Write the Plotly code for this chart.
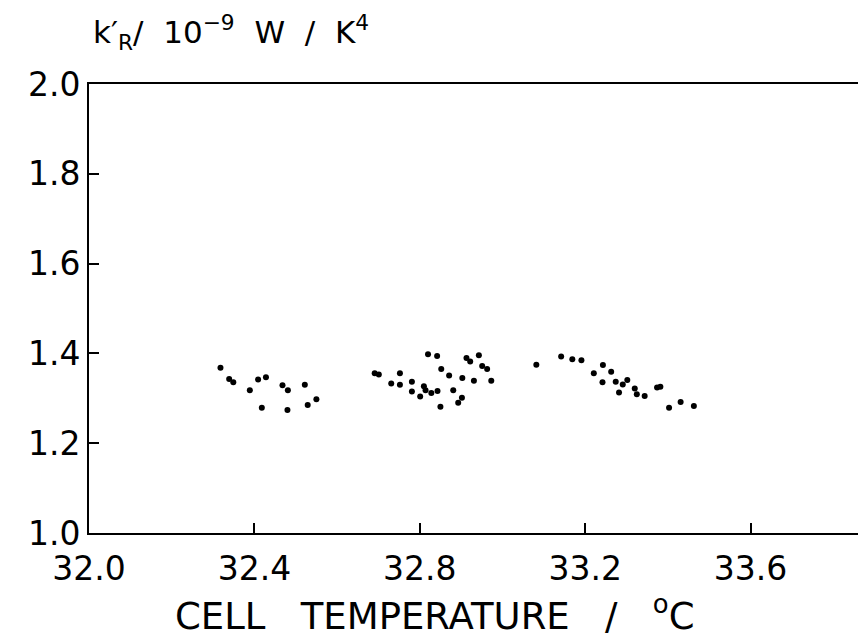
import plotly.graph_objects as go

# Data: cell temperature (°C) and k'_R (1e-9 W / K^4)
temperature = [32.318, 32.339, 32.349, 32.389, 32.409, 32.428, 32.418, 32.468, 32.481, 32.480,
               32.522, 32.529, 32.550,
               32.691, 32.701, 32.731, 32.752, 32.752, 32.781, 32.781, 32.801, 32.810, 32.814,
               32.828, 32.843, 32.820, 32.842, 32.852, 32.871, 32.850, 32.881, 32.893, 32.902,
               32.903, 32.913, 32.922, 32.943, 32.931, 32.951, 32.963, 32.973,
               33.082, 33.142, 33.169, 33.191, 33.221, 33.243, 33.263, 33.242, 33.274, 33.291,
               33.302, 33.282, 33.320, 33.325, 33.344, 33.374, 33.382, 33.403, 33.431, 33.463]
k_r = [1.368, 1.343, 1.336, 1.318, 1.342, 1.347, 1.279, 1.329, 1.318, 1.274,
       1.330, 1.285, 1.298,
       1.356, 1.353, 1.333, 1.356, 1.330, 1.337, 1.315, 1.304, 1.327, 1.318,
       1.312, 1.316, 1.398, 1.394, 1.365, 1.351, 1.281, 1.318, 1.290, 1.301,
       1.345, 1.390, 1.382, 1.396, 1.339, 1.372, 1.365, 1.339,
       1.375, 1.393, 1.387, 1.385, 1.356, 1.374, 1.359, 1.336, 1.337, 1.331,
       1.341, 1.313, 1.322, 1.309, 1.305, 1.324, 1.326, 1.279, 1.292, 1.283]

x_ticks = [32.0, 32.4, 32.8, 33.2, 33.6]
x_tick_labels = ["32.0", "32.4", "32.8", "33.2", "33.6"]
y_ticks = [1.0, 1.2, 1.4, 1.6, 1.8, 2.0]
y_tick_labels = ["1.0", "1.2", "1.4", "1.6", "1.8", "2.0"]

FONT = "DejaVu Sans"

fig = go.Figure()
fig.add_trace(go.Scatter(
    x=temperature, y=k_r, mode="markers",
    marker=dict(color="black", size=6, line=dict(width=0)),
    showlegend=False,
))

fig.update_layout(
    width=858, height=639,
    margin=dict(l=89, r=0, t=84, b=106),
    paper_bgcolor="white", plot_bgcolor="white",
    font=dict(family=FONT, color="black", size=32),
    xaxis=dict(
        range=[32.0, 33.86], tickvals=x_ticks, ticktext=x_tick_labels,
        ticks="inside", ticklen=10, tickwidth=2, tickcolor="black",
        showline=True, linecolor="black", linewidth=2, mirror=True,
        showgrid=False, zeroline=False, ticklabelstandoff=5,
        tickfont=dict(size=33, family=FONT),
    ),
    yaxis=dict(
        range=[1.0, 2.0], tickvals=y_ticks, ticktext=y_tick_labels,
        ticks="inside", ticklen=10, tickwidth=2, tickcolor="black",
        showline=True, linecolor="black", linewidth=2, mirror=False,
        showgrid=False, zeroline=False,
        tickfont=dict(size=33, family=FONT),
    ),
    annotations=[
        dict(text="k′<sub>R</sub>/  10<sup>−9</sup>  W  /  K<sup>4</sup>",
             xref="paper", yref="paper", x=0, y=1.115, xshift=2,
             xanchor="left", yanchor="middle", showarrow=False,
             font=dict(size=31, family=FONT)),
        dict(text="CELL   TEMPERATURE   /   <sup>o</sup>C",
             xref="paper", yref="paper", x=0.449, y=-0.18,
             xanchor="center", yanchor="middle", showarrow=False,
             font=dict(size=37, family=FONT)),
    ],
)

fig.write_html("out.html")
